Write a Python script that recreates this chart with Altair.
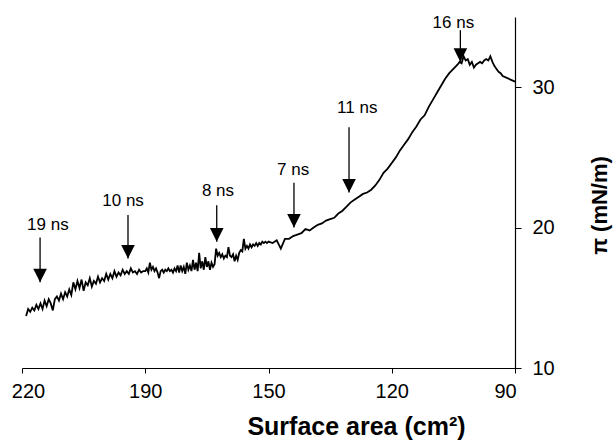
import altair as alt
import pandas as pd

# ---- main isotherm trace (surface area in cm^2, surface pressure in mN/m) ----
area_a = [219.0, 218.5, 218.0, 217.5, 217.0, 216.5, 216.0, 215.5, 215.0, 214.5,
          214.0, 213.5, 213.0, 212.5, 212.0, 211.5, 211.0, 210.5, 210.0, 209.5,
          209.0, 208.5, 208.0, 207.5, 207.0, 206.5, 206.0, 205.5, 205.0, 204.5,
          204.0, 203.5, 203.0, 202.5, 202.0, 201.5, 201.0, 200.5, 200.0, 199.5,
          199.0, 198.5, 198.0, 197.5, 197.0, 196.5, 196.0, 195.5, 195.0, 194.5,
          194.0, 193.5, 193.0, 192.5, 192.0, 191.5, 191.0, 190.5]
pi_a = [13.7, 14.2, 14.0, 14.3, 14.1, 14.5, 14.2, 14.6, 14.2, 14.8,
        14.4, 14.9, 14.6, 14.1, 14.9, 15.1, 14.8, 15.3, 14.9, 15.4,
        15.1, 15.6, 15.2, 16.1, 15.6, 16.2, 15.7, 16.3, 15.5, 16.1,
        15.9, 16.4, 15.8, 16.2, 16.0, 16.5, 16.1, 16.4, 16.2, 16.7,
        16.3, 16.7, 16.4, 16.9, 16.5, 16.8, 16.6, 17.0, 16.7, 16.9,
        16.7, 17.1, 16.8, 16.9, 16.7, 17.0, 16.8, 16.9]

area_b = [190.0, 189.5, 189.0, 188.5, 188.0, 187.5, 187.0, 186.5, 186.0, 185.5,
          185.0, 184.5, 184.0, 183.5, 183.0, 182.5, 182.0, 181.5, 181.0, 180.5,
          180.0, 179.5, 179.0, 178.5, 178.0, 177.5, 177.0, 176.5, 176.0, 175.5,
          175.0, 174.5, 174.0, 173.5, 173.0, 172.5, 172.0, 171.5, 171.0, 170.5,
          170.0, 169.5, 169.0, 168.5, 168.0, 167.5, 167.0, 166.5, 166.0, 165.5,
          165.0, 164.5, 164.0, 163.5, 163.0, 162.5, 162.0, 161.5, 161.0, 160.5,
          160.0, 159.5, 159.0, 158.5, 158.0, 157.5, 157.0, 156.5, 156.0, 155.5,
          155.0, 154.5, 154.0, 153.5, 153.0, 152.5, 152.0, 151.5, 151.0, 150.5]
pi_b = [16.9, 17.1, 16.8, 17.5, 17.0, 17.2, 16.9, 17.1, 16.8, 16.4,
        16.9, 17.0, 16.8, 17.0, 16.9, 17.1, 16.9, 17.0, 16.8, 17.1,
        16.9, 17.3, 16.8, 17.3, 16.9, 17.2, 16.7, 17.5, 17.0, 17.3,
        16.9, 17.7, 17.0, 17.5, 16.9, 18.2, 17.1, 17.6, 17.0, 17.9,
        17.2, 17.6, 17.0, 17.5, 17.2, 17.4, 18.5, 18.0, 18.2, 17.9,
        18.1, 17.8, 18.0, 17.9, 18.6, 18.0, 17.9, 18.1, 17.6, 18.0,
        17.7, 18.2, 18.4, 18.3, 19.2, 18.5, 18.7, 18.5, 18.8, 18.6,
        18.8, 18.7, 18.9, 18.7, 18.9, 18.8, 19.0, 18.9, 19.0, 18.9]

area_c = [150, 149, 148, 147, 146, 145, 144, 143, 142, 141,
          140, 139, 138, 137, 136, 135, 134, 133, 132, 131,
          130, 129, 128, 127, 126, 125, 124, 123, 122, 121]
pi_c = [19.0, 18.9, 19.1, 18.5, 19.2, 19.2, 19.4, 19.5, 19.6, 19.9,
        19.8, 20.0, 20.2, 20.3, 20.5, 20.6, 20.7, 21.0, 21.2, 21.5,
        21.8, 22.0, 22.2, 22.4, 22.5, 22.7, 23.0, 23.4, 23.9, 24.2]

area_d = [120, 119, 118, 117, 116, 115, 114, 113, 112, 111,
          110, 109, 108, 107, 106, 105, 104, 103.5, 103, 102.5,
          102, 101.5, 101, 100.5, 100, 99.5, 99, 98.5, 98, 97.5,
          97, 96.5, 96, 95.5, 95, 94.5, 94, 93.5, 93, 90]
pi_d = [24.6, 25.0, 25.5, 25.9, 26.3, 26.8, 27.2, 27.7, 28.0, 28.6,
        29.1, 29.6, 30.1, 30.6, 31.0, 31.3, 31.6, 31.8, 31.7, 32.2,
        31.9, 32.0, 31.6, 31.8, 31.4, 31.6, 31.7, 31.8, 31.7, 31.9,
        32.0, 31.9, 32.2, 31.8, 31.5, 31.3, 31.1, 31.0, 30.8, 30.4]

# ---- arrow annotations ----
arrow_labels = ["19 ns", "10 ns", "8 ns", "7 ns", "11 ns", "16 ns"]
arrow_x = [215.6, 194.2, 166.8, 143.8, 130.4, 103.3]
arrow_top = [19.3, 20.9, 21.6, 23.2, 27.15, 34.06]
arrow_tip = [16.1, 17.8, 19.0, 20.0, 22.5, 31.8]
label_x = [213.7, 195.4, 166.4, 144.0, 128.4, 105.0]
label_y = [20.2, 21.9, 22.6, 24.1, 28.5, 34.6]

x_ticks = [220, 190, 150, 120, 90]
y_ticks = [10, 20, 30]

W, H = 493, 351
FONT = "Liberation Sans"

df = pd.DataFrame({"area": area_a + area_b + area_c + area_d,
                   "pi": pi_a + pi_b + pi_c + pi_d})
arrows = pd.DataFrame({"label": arrow_labels, "ax": arrow_x, "top": arrow_top,
                       "tip": arrow_tip, "lx": label_x, "ly": label_y})

xscale = alt.Scale(domain=x_ticks, range=[0, W / 4, W / 2, 3 * W / 4, W],
                   nice=False, zero=False)
yscale = alt.Scale(domain=[10, 35], nice=False, zero=False)

x_axis = alt.Axis(
    values=x_ticks, format="d", grid=False,
    title="Surface area (cm²)", titleFont=FONT, titleFontSize=25,
    titleFontWeight="bold", titleColor="black", titleX=334, titleY=66,
    titleAlign="center", titleBaseline="alphabetic",
    labelFont=FONT, labelFontSize=20, labelColor="black", labelPadding=8,
    labelFlush=False,
    labelOffset={"condition": [{"test": "datum.value == 90", "value": -10},
                               {"test": "datum.value == 220", "value": 6}],
                 "value": 0},
    tickSize=5, tickColor="black", domainColor="black", domainWidth=1.2,
)
y_axis = alt.Axis(
    orient="right", values=y_ticks, grid=False,
    title="π (mN/m)", titleFont=FONT, titleFontSize=22, titleFontWeight="bold",
    titleColor="black", titleAngle=270, titleX=84, titleY=188,
    titleAlign="center", titleBaseline="middle",
    labelFont=FONT, labelFontSize=20, labelColor="black", labelPadding=11,
    tickSize=6, tickColor="black", domainColor="black", domainWidth=1.2,
)

X = dict(scale=xscale, axis=x_axis)
Y = dict(scale=yscale, axis=y_axis)

line = alt.Chart(df).mark_line(color="black", strokeWidth=1.8).encode(
    x=alt.X("area:Q", **X),
    y=alt.Y("pi:Q", **Y),
)

shafts = alt.Chart(arrows).mark_rule(color="black", strokeWidth=1.3).encode(
    x=alt.X("ax:Q", **X),
    y=alt.Y("top:Q", **Y),
    y2="tip:Q",
)

heads = alt.Chart(arrows).mark_point(
    shape="M-1,-1L1,-1L0,1Z", filled=True, size=185, color="black",
    opacity=1, strokeWidth=0, yOffset=-6.8,
).encode(
    x=alt.X("ax:Q", **X),
    y=alt.Y("tip:Q", **Y),
)

labels = alt.Chart(arrows).mark_text(
    font=FONT, fontSize=17, color="black", align="center", baseline="middle",
).encode(
    x=alt.X("lx:Q", **X),
    y=alt.Y("ly:Q", **Y),
    text="label:N",
)

chart = alt.layer(line, shafts, heads, labels).properties(
    width=W, height=H,
    autosize=alt.AutoSizeParams(type="none"),
    padding={"left": 22, "top": 17, "right": 100, "bottom": 72},
    background="white",
).configure_view(stroke=None)

chart.save("out.html", embed_options={"renderer": "svg", "actions": False})
